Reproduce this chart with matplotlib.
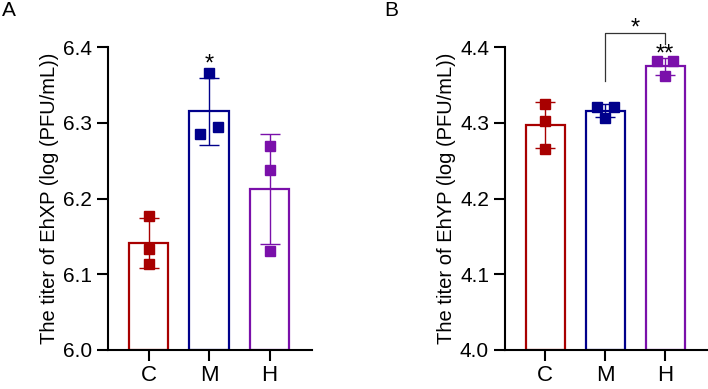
import numpy as np
import matplotlib.pyplot as plt

plt.rcParams['font.family'] = ['Liberation Sans', 'DejaVu Sans']

groups = ["C", "M", "H"]
colors = ["#A80000", "#00008B", "#7A10AA"]

# replicate values
ehxp_points = [[6.177, 6.133, 6.113],
               [6.366, 6.294, 6.285],
               [6.269, 6.238, 6.131]]
ehyp_points = [[4.325, 4.302, 4.265],
               [4.321, 4.321, 4.306],
               [4.381, 4.381, 4.362]]

# horizontal spread of the dots (GraphPad style scatter)
ehxp_offsets = [[0, 0, 0], [0, 0.15, -0.15], [0, 0, 0]]
ehyp_offsets = [[0, 0, 0], [-0.14, 0.14, 0], [-0.14, 0.14, 0]]


def draw_panel(ax, points, offsets, ymin, ymax, ylabel):
    x = np.arange(len(groups))
    means = [np.mean(p) for p in points]
    sds = [np.std(p, ddof=1) for p in points]
    ax.bar(x, [m - ymin for m in means], bottom=ymin, width=0.65,
           facecolor='white', edgecolor=colors, linewidth=1.6, zorder=2)
    for i in range(len(groups)):
        ax.errorbar(x[i], means[i], yerr=sds[i], color=colors[i], lw=1.0,
                    capsize=7.5, capthick=1.0, zorder=3)
        ax.plot(x[i] + np.array(offsets[i]), points[i], 's', color=colors[i],
                markersize=6.5, zorder=4, clip_on=False)
    ax.set_xlim(-0.67, 2.7)
    ax.set_ylim(ymin, ymax)
    ax.set_xticks(x)
    ax.set_xticklabels(groups)
    ticks = np.arange(ymin, ymax + 0.001, 0.1)
    ax.set_yticks(np.round(ticks, 1))
    ax.set_yticklabels([f"{v:.1f}" for v in ticks])
    for s in ['top', 'right']:
        ax.spines[s].set_visible(False)
    for s in ['left', 'bottom']:
        ax.spines[s].set_linewidth(1.5)
    ax.tick_params(axis='both', width=1.5, length=8, labelsize=15, direction='out')
    ax.tick_params(axis='x', labelsize=16, pad=3)
    ax.set_ylabel(ylabel, fontsize=14.5, labelpad=3)
    return means, sds


fig = plt.figure(figsize=(7.08, 3.89), dpi=100)
axA = fig.add_axes([0.1525, 0.1003, 0.288, 0.7788])
axB = fig.add_axes([0.7133, 0.1003, 0.2853, 0.7788])

mA, sA = draw_panel(axA, ehxp_points, ehxp_offsets, 6.0, 6.4,
                    "The titer of EhXP (log (PFU/mL))")
mB, sB = draw_panel(axB, ehyp_points, ehyp_offsets, 4.0, 4.4,
                    "The titer of EhYP (log (PFU/mL))")

# significance marks
axA.text(1, 6.377, "*", ha='center', va='center', fontsize=17)
axB.text(2, 4.390, "**", ha='center', va='center', fontsize=17)
axB.plot([1, 1, 2, 2], [4.355, 4.419, 4.419, 4.404], color='#333333', lw=0.9,
         clip_on=False)
axB.text(1.5, 4.424, "*", ha='center', va='center', fontsize=17)

fig.text(0.003, 0.997, "A", fontsize=15, va='top', ha='left')
fig.text(0.543, 0.997, "B", fontsize=15, va='top', ha='left')

fig.savefig("out.png", dpi=100)
